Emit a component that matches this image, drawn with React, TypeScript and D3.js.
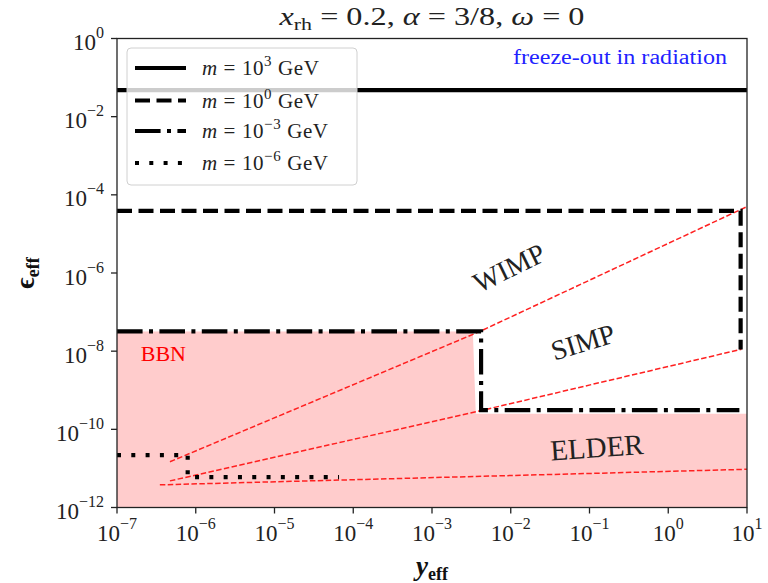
import React from "react";
import * as d3 from "d3";

// ---------- data ----------
const xTickExps = [-7, -6, -5, -4, -3, -2, -1, 0, 1];
const yTickExps = [0, -2, -4, -6, -8, -10, -12];

// m = 10^3 GeV (solid)
const m3Y = [1e-7, 10];
const m3Eps = [4.8e-2, 4.8e-2];
// m = 10^0 GeV (dashed)
const m0Y = [1e-7, 8.3, 8.3];
const m0Eps = [3.9e-5, 3.9e-5, 1.1e-8];
// m = 10^-3 GeV (dash-dot)
const mm3Y = [1e-7, 4.2e-3, 4.2e-3, 8.0];
const mm3Eps = [3.2e-8, 3.2e-8, 3.1e-10, 3.1e-10];
// m = 10^-6 GeV (dotted)
const mm6Y = [1e-7, 7.9e-7, 7.9e-7, 6.6e-5];
const mm6Eps = [2.2e-11, 2.2e-11, 6.0e-12, 6.0e-12];

// BBN excluded region (upper boundary)
const bbnY = [1e-7, 3.3e-3, 3.6e-3, 10];
const bbnEps = [3.2e-8, 3.2e-8, 2.5e-10, 2.5e-10];

// red dashed phase boundaries
const wimpSimpY = [4.7e-7, 4.0e-3, 10];
const wimpSimpEps = [1.48e-11, 3.16e-8, 5.0e-5];
const simpElderY = [4.7e-7, 4.0e-3, 8.5];
const simpElderEps = [4.8e-12, 2.95e-10, 1.12e-8];
const elderY = [3.5e-7, 10];
const elderEps = [3.8e-12, 9.5e-12];

const legendSups = ["3", "0", "\u22123", "\u22126"];

// ---------- layout ----------
const W = 768;
const H = 583;
const L = 117, R = 747, T = 38.5, B = 507.5;
const serif = "'Liberation Serif', 'DejaVu Serif', serif";

const x = d3.scaleLog().domain([1e-7, 10]).range([L, R]);
const y = d3.scaleLog().domain([1e-12, 1]).range([B, T]);

const toPts = (xs: number[], ys: number[]) => xs.map((v, i) => [v, ys[i]] as [number, number]);
const line = d3
  .line<[number, number]>()
  .x((d) => x(d[0]))
  .y((d) => y(d[1]));

const styles = [
  { dash: "none" },
  { dash: "15 6.5" },
  { dash: "25.6 6.4 4 6.4" },
  { dash: "4 10.3" },
];

const supStr = (e: number) => (e < 0 ? "\u2212" + Math.abs(e) : String(e));

export default function App() {
  const bbnArea = d3
    .area<[number, number]>()
    .x((d) => x(d[0]))
    .y0(() => y(1e-12))
    .y1((d) => y(d[1]));

  const blackLines = [
    toPts(m3Y, m3Eps),
    toPts(m0Y, m0Eps),
    toPts(mm3Y, mm3Eps),
    toPts(mm6Y, mm6Eps),
  ];
  const redLines = [
    toPts(wimpSimpY, wimpSimpEps),
    toPts(simpElderY, simpElderEps),
    toPts(elderY, elderEps),
  ];

  const legendY = [68, 100.5, 131, 163];

  return (
    <svg
      width={W}
      height={H}
      style={{ position: "absolute", left: 0, top: 0, background: "#fff" }}
      fontFamily={serif}
    >
      <defs>
        <clipPath id="plotclip">
          <rect x={L} y={T} width={R - L} height={B - T} />
        </clipPath>
      </defs>
      <rect x={0} y={0} width={W} height={H} fill="#fff" />

      <g clipPath="url(#plotclip)">
        <path d={bbnArea(toPts(bbnY, bbnEps)) || ""} fill="#ffcccc" />
        {redLines.map((p, i) => (
          <path key={"r" + i} d={line(p) || ""} fill="none" stroke="#ff2020" strokeWidth={1.5} strokeDasharray="5.5 2.4" />
        ))}
        {blackLines.map((p, i) => (
          <path
            key={"b" + i}
            d={line(p) || ""}
            fill="none"
            stroke="#000"
            strokeWidth={4.2}
            strokeDasharray={styles[i].dash}
            strokeLinejoin="miter"
            strokeLinecap={i === 0 ? "square" : "butt"}
          />
        ))}
      </g>

      {/* annotations */}
      <text x={x(2e-7)} y={y(5.6e-9)} fill="#ff0000" fontSize={22}>BBN</text>
      <text
        x={x(5.57)}
        y={y(0.223)}
        fill="#2222ff"
        fontSize={20}
        textAnchor="end"
        textLength={214}
        lengthAdjust="spacingAndGlyphs"
      >freeze-out in radiation</text>
      <text
        transform={`translate(${x(9.5e-3)},${y(1.35e-6)}) rotate(-26)`}
        fontSize={28}
        fill="#222"
        textAnchor="middle"
        dominantBaseline="central"
      >WIMP</text>
      <text
        transform={`translate(${x(0.0826)},${y(1.71e-8)}) rotate(-17)`}
        fontSize={28}
        fill="#222"
        textAnchor="middle"
        dominantBaseline="central"
      >SIMP</text>
      <text
        transform={`translate(${x(0.124)},${y(3.5e-11)}) rotate(-4)`}
        fontSize={29}
        fill="#222"
        textAnchor="middle"
        dominantBaseline="central"
      >ELDER</text>

      {/* frame */}
      <rect x={L} y={T} width={R - L} height={B - T} fill="none" stroke="#222" strokeWidth={1.3} />

      {/* x ticks */}
      {xTickExps.map((e) => {
        const px = x(Math.pow(10, e));
        return (
          <g key={"xt" + e}>
            <line x1={px} x2={px} y1={B} y2={B + 6} stroke="#222" strokeWidth={1.3} />
            <text x={px} y={B + 33} textAnchor="middle" fontSize={23} fill="#222">
              <tspan>10</tspan>
              <tspan dy={-12} fontSize={16}>{supStr(e)}</tspan>
            </text>
          </g>
        );
      })}

      {/* y ticks */}
      {yTickExps.map((e) => {
        const py = y(Math.pow(10, e));
        return (
          <g key={"yt" + e}>
            <line x1={L - 6} x2={L} y1={py} y2={py} stroke="#222" strokeWidth={1.3} />
            <text x={L - 13} y={py + 11.5} textAnchor="end" fontSize={23} fill="#222">
              <tspan>10</tspan>
              <tspan dy={-12} fontSize={16}>{supStr(e)}</tspan>
            </text>
          </g>
        );
      })}

      {/* legend */}
      <rect x={127} y={48} width={230} height={137} rx={4} fill="rgba(255,255,255,0.8)" stroke="#d0d0d0" strokeWidth={1} />
      {legendSups.map((s, i) => (
        <g key={"lg" + i}>
          <line
            x1={135}
            x2={186}
            y1={legendY[i]}
            y2={legendY[i]}
            stroke="#000"
            strokeWidth={4.2}
            strokeDasharray={styles[i].dash}
          />
          <text x={202} y={legendY[i] + 7} fontSize={21} fill="#222" letterSpacing={0.6}>
            <tspan fontStyle="italic">m</tspan>
            <tspan> = 10</tspan>
            <tspan dy={-9} fontSize={15}>{s}</tspan>
            <tspan dy={9}> GeV</tspan>
          </text>
        </g>
      ))}

      {/* title */}
      <text
        x={(L + R) / 2}
        y={25}
        textAnchor="middle"
        fontSize={25}
        fill="#222"
        textLength={305}
        lengthAdjust="spacingAndGlyphs"
      >
        <tspan fontStyle="italic">x</tspan>
        <tspan dy={5} fontSize={17}>rh</tspan>
        <tspan dy={-5}> = 0.2, </tspan>
        <tspan fontStyle="italic">α</tspan>
        <tspan> = 3/8, </tspan>
        <tspan fontStyle="italic">ω</tspan>
        <tspan> = 0</tspan>
      </text>

      {/* axis labels */}
      <text x={(L + R) / 2} y={575} textAnchor="middle" fontSize={27} fontWeight="bold" fill="#111">
        <tspan fontStyle="italic">y</tspan>
        <tspan dy={5} fontSize={18}>eff</tspan>
      </text>
      <text
        transform={`translate(34,${(T + B) / 2}) rotate(-90)`}
        textAnchor="middle"
        fontSize={27}
        fontWeight="bold"
        fill="#111"
      >
        <tspan>ϵ</tspan>
        <tspan dy={5} fontSize={18}>eff</tspan>
      </text>
    </svg>
  );
}
